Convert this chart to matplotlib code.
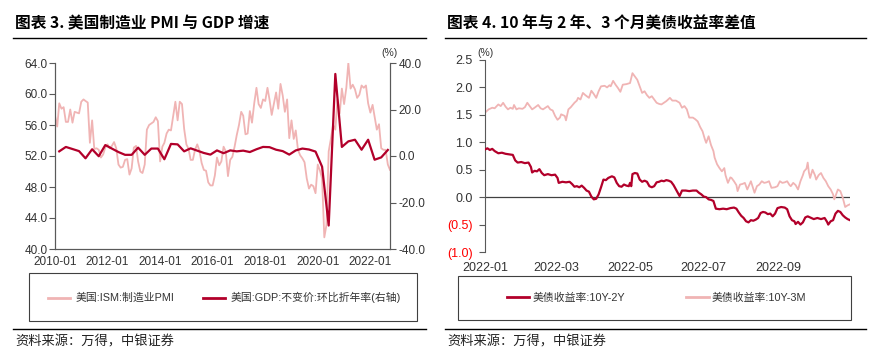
import matplotlib
matplotlib.use('Agg')
import numpy as np
import pandas as pd
import matplotlib.pyplot as plt
from matplotlib.patches import Rectangle
from matplotlib.lines import Line2D

plt.rcParams['font.family'] = ['Noto Sans CJK SC', 'DejaVu Sans']
NUM_FONT = ['Liberation Sans', 'DejaVu Sans']
LEG_FONT = ['Liberation Sans', 'Noto Sans CJK SC', 'DejaVu Sans']

''' data: left chart (monthly PMI, quarterly GDP qoq saar)
'''
pmi = [57.2, 55.8, 58.8, 58.1, 58.3, 56.4, 56.4, 58.0, 56.3, 57.7, 57.6, 57.5,
       59.0, 59.3, 59.1, 58.9, 53.7, 56.6, 52.9, 53.0, 52.8, 51.8, 52.2, 53.1,
       53.5, 53.0, 53.3, 53.8, 53.0, 50.9, 50.5, 50.6, 51.5, 51.6, 49.6, 50.4,
       53.1, 53.3, 51.3, 50.0, 49.8, 50.9, 55.4, 56.0, 56.2, 56.4, 57.0, 56.5,
       51.3, 53.2, 53.7, 54.9, 55.4, 55.3, 57.1, 59.0, 56.6, 59.0, 58.7, 55.5,
       53.5, 52.9, 51.5, 51.5, 52.8, 53.5, 52.7, 51.1, 50.2, 50.1, 48.6, 48.2,
       48.2, 49.5, 51.8, 50.8, 51.3, 53.2, 52.6, 49.4, 51.5, 51.9, 53.2, 54.7,
       56.0, 57.7, 57.2, 54.8, 54.9, 57.8, 56.3, 58.8, 60.8, 58.7, 58.2, 59.3,
       59.1, 60.8, 59.3, 57.3, 58.7, 60.2, 58.1, 61.3, 59.8, 57.7, 59.3, 54.3,
       56.6, 54.2, 55.3, 52.8, 52.1, 51.7, 51.2, 49.1, 47.8, 48.3, 48.1, 47.2,
       50.9, 50.1, 49.1, 41.5, 43.1, 52.6, 54.2, 56.0, 55.4, 59.3, 57.5, 60.7,
       58.7, 60.8, 64.0, 60.7, 61.2, 60.6, 59.5, 59.9, 61.1, 60.8, 61.1, 58.8,
       57.6, 58.6, 57.1, 55.4, 56.1, 53.0, 52.8, 52.8, 50.9, 50.2]
pmi_dates = pd.date_range('2010-01-01', periods=len(pmi), freq='MS')

gdp = [2.0, 3.9, 3.0, 2.1,
       -1.0, 2.9, -0.1, 4.7,
       3.2, 1.7, 0.5, 0.5,
       3.6, 0.5, 3.2, 3.2,
       -1.4, 5.2, 5.0, 2.0,
       3.3, 2.3, 1.3, 0.6,
       2.4, 1.2, 2.4, 2.0,
       2.3, 1.7, 2.9, 3.9,
       3.8, 2.7, 2.1, 0.6,
       2.4, 3.2, 2.8, 1.9,
       -4.6, -29.9, 35.3, 3.9,
       6.3, 7.0, 2.7, 7.0,
       -1.6, -0.6, 2.6]
gdp_dates = pd.date_range('2010-03-01', periods=len(gdp), freq='3MS')
left_ticks = ['2010-01', '2012-01', '2014-01', '2016-01', '2018-01', '2020-01', '2022-01']

''' data: right chart (daily spreads, day offset from 2022-01-01)
'''
days_2y = [0, 2, 4, 6, 8, 11, 14, 17, 20, 23, 25, 27, 30, 33, 36, 38, 39, 41, 43, 45,
           47, 49, 52, 55, 58, 60, 61, 64, 67, 70, 72, 74, 76, 78, 80, 82, 84, 86, 88, 90,
           92, 94, 96, 98, 100, 102, 105, 107, 109, 111, 113, 115, 117, 119, 120, 121, 122, 124, 126, 128,
           130, 132, 134, 136, 138, 140, 142, 144, 146, 148, 150, 152, 154, 156, 158, 161, 163, 166, 169, 172,
           175, 177, 179, 181, 183, 185, 187, 189, 191, 194, 197, 200, 203, 206, 208, 210, 212, 214, 216, 218,
           220, 222, 224, 226, 228, 230, 232, 234, 236, 238, 240, 242, 245, 248, 250, 252, 254, 256, 257, 259,
           261, 263, 265, 267, 269, 272, 275, 278, 281, 283, 284, 286, 288, 290, 292, 294, 296, 298, 300, 302]
spread_2y = [0.87, 0.89, 0.86, 0.88, 0.84, 0.80, 0.81, 0.79, 0.78, 0.77, 0.67, 0.63, 0.64, 0.62, 0.63, 0.55, 0.45, 0.48, 0.47, 0.51,
             0.44, 0.40, 0.42, 0.40, 0.41, 0.35, 0.26, 0.28, 0.27, 0.28, 0.24, 0.19, 0.20, 0.18, 0.21, 0.17, 0.12, 0.10, 0.01, -0.04,
             -0.03, 0.05, 0.18, 0.32, 0.31, 0.35, 0.38, 0.36, 0.26, 0.20, 0.19, 0.23, 0.21, 0.20, 0.26, 0.20, 0.42, 0.44, 0.43, 0.32,
             0.28, 0.30, 0.28, 0.20, 0.18, 0.20, 0.27, 0.28, 0.30, 0.29, 0.31, 0.30, 0.28, 0.22, 0.14, 0.02, 0.12, 0.12, 0.11, 0.12,
             0.12, 0.08, 0.05, 0.01, 0.00, -0.04, -0.05, -0.07, -0.21, -0.22, -0.21, -0.22, -0.20, -0.19, -0.21, -0.28, -0.34, -0.38, -0.44, -0.46,
             -0.42, -0.43, -0.41, -0.38, -0.29, -0.27, -0.28, -0.31, -0.30, -0.35, -0.30, -0.20, -0.18, -0.19, -0.22, -0.35, -0.42, -0.44, -0.49, -0.45,
             -0.50, -0.46, -0.37, -0.35, -0.37, -0.40, -0.38, -0.40, -0.38, -0.45, -0.50, -0.44, -0.42, -0.30, -0.25, -0.27, -0.33, -0.37, -0.40, -0.42]

days_3m = [0, 3, 6, 8, 11, 13, 15, 17, 19, 21, 23, 24, 26, 28, 31, 33, 35, 37, 39, 41,
           44, 46, 48, 50, 52, 54, 56, 58, 60, 62, 63, 66, 67, 69, 71, 74, 76, 77, 79, 81,
           83, 86, 88, 90, 92, 94, 96, 99, 101, 103, 104, 106, 108, 110, 112, 114, 117, 120, 122, 124,
           126, 128, 130, 132, 134, 136, 138, 140, 142, 144, 146, 148, 150, 153, 155, 158, 161, 163, 165, 167,
           169, 172, 174, 176, 178, 180, 182, 183, 185, 187, 189, 190, 192, 194, 196, 198, 199, 201, 203, 204,
           206, 208, 209, 211, 213, 215, 217, 219, 220, 222, 223, 225, 227, 229, 231, 233, 235, 237, 240, 242,
           244, 246, 248, 250, 252, 253, 255, 257, 259, 261, 263, 264, 266, 267, 268, 269, 271, 273, 274, 276,
           278, 280, 282, 284, 286, 288, 289, 291, 292, 294, 296, 298, 300, 302]
spread_3m = [1.54, 1.60, 1.63, 1.62, 1.69, 1.66, 1.72, 1.65, 1.60, 1.63, 1.61, 1.68, 1.60, 1.62, 1.61, 1.64, 1.72, 1.66, 1.60, 1.63,
             1.68, 1.62, 1.60, 1.63, 1.66, 1.60, 1.58, 1.48, 1.41, 1.45, 1.51, 1.48, 1.40, 1.60, 1.64, 1.72, 1.76, 1.81, 1.78, 1.90,
             1.86, 1.81, 1.94, 1.88, 1.81, 1.93, 2.02, 2.03, 2.00, 2.04, 2.02, 2.12, 2.05, 1.99, 1.92, 2.05, 2.06, 2.08, 2.26, 2.20,
             2.14, 2.02, 1.90, 1.93, 1.86, 1.81, 1.84, 1.78, 1.72, 1.70, 1.69, 1.72, 1.75, 1.81, 1.76, 1.76, 1.72, 1.63, 1.66, 1.60,
             1.45, 1.45, 1.42, 1.38, 1.28, 1.20, 1.05, 0.99, 1.11, 0.95, 0.84, 0.72, 0.60, 0.53, 0.47, 0.53, 0.40, 0.26, 0.36, 0.35,
             0.29, 0.22, 0.11, 0.23, 0.24, 0.26, 0.14, 0.24, 0.29, 0.15, 0.08, 0.20, 0.23, 0.29, 0.26, 0.27, 0.29, 0.17, 0.18, 0.20,
             0.29, 0.26, 0.27, 0.29, 0.22, 0.20, 0.26, 0.22, 0.14, 0.29, 0.40, 0.47, 0.52, 0.63, 0.45, 0.35, 0.50, 0.40, 0.32, 0.40,
             0.44, 0.35, 0.29, 0.20, 0.14, 0.05, -0.04, 0.08, 0.14, 0.11, -0.01, -0.18, -0.15, -0.13]
right_ticks = ['2022-01', '2022-03', '2022-05', '2022-07', '2022-09']

base = pd.Timestamp('2022-01-01')
dates_2y = base + pd.to_timedelta(days_2y, unit='D')
dates_3m = base + pd.to_timedelta(days_3m, unit='D')

''' colours
'''
PINK = '#F0B4B4'
DARK = '#B2002A'
AXC = '#595959'
TXT = '#333333'

W, H = 875, 351
def fx(px): return px / W
def fy(py): return 1 - py / H

fig = plt.figure(figsize=(8.75, 3.51), dpi=100)

''' left chart
'''
ax1 = fig.add_axes([fx(55), fy(249), fx(390) - fx(55), fy(63) - fy(249)])
ax1.plot(pmi_dates, pmi, color=PINK, lw=1.3, zorder=2)
ax1.set_ylim(40, 64)
ax1.set_yticks(np.arange(40, 64.1, 4))
ax1.yaxis.set_major_formatter(matplotlib.ticker.FormatStrFormatter('%.1f'))
ax1.set_xlim(pmi_dates[0], pmi_dates[-1])
ax1.set_xticks(pd.to_datetime(left_ticks))
ax1.set_xticklabels(left_ticks)
ax1.tick_params(axis='x', length=0, pad=5, labelsize=8.5, labelcolor=TXT)
ax1.tick_params(axis='y', direction='out', length=4, width=0.8, color=AXC, pad=1.5,
                labelsize=8.5, labelcolor=TXT)
ax1.spines['top'].set_visible(False)
for s in ['left', 'right', 'bottom']:
  ax1.spines[s].set_color(AXC)
  ax1.spines[s].set_linewidth(0.8)

ax2 = ax1.twinx()
ax2.plot(gdp_dates, gdp, color=DARK, lw=1.6, zorder=3)
ax2.set_ylim(-40, 40)
ax2.set_yticks(np.arange(-40, 40.1, 20))
ax2.yaxis.set_major_formatter(matplotlib.ticker.FormatStrFormatter('%.1f'))
ax2.tick_params(axis='y', direction='out', length=4, width=0.8, color=AXC, pad=2,
                labelsize=8.5, labelcolor=TXT)
ax2.spines['top'].set_visible(False)
for s in ['left', 'right', 'bottom']:
  ax2.spines[s].set_color(AXC)
  ax2.spines[s].set_linewidth(0.8)

for a in (ax1, ax2):
  for lab in a.get_xticklabels() + a.get_yticklabels():
    lab.set_fontfamily(NUM_FONT)

''' right chart
'''
ax3 = fig.add_axes([fx(485), fy(252), fx(850) - fx(485), fy(60) - fy(252)])
ax3.plot(dates_3m, spread_3m, color=PINK, lw=1.3, zorder=2)
ax3.plot(dates_2y, spread_2y, color=DARK, lw=1.6, zorder=3)
ax3.axhline(0, color='#404040', lw=0.9, zorder=1)
ax3.set_ylim(-1.0, 2.5)
yt = np.arange(-1.0, 2.51, 0.5)
ax3.set_yticks(yt)
ax3.set_yticklabels(['({:.1f})'.format(-v) if v < 0 else '{:.1f}'.format(abs(v)) for v in yt])
for lab, v in zip(ax3.get_yticklabels(), yt):
  lab.set_color('#FF0000' if v < 0 else TXT)
ax3.set_xlim(base, dates_2y[-1])
ax3.set_xticks(pd.to_datetime(right_ticks))
ax3.set_xticklabels(right_ticks)
ax3.tick_params(axis='x', length=0, pad=7, labelsize=9, labelcolor=TXT)
ax3.tick_params(axis='y', direction='out', length=4, width=0.8, color=AXC, pad=5, labelsize=9)
for s in ['top', 'right', 'bottom']:
  ax3.spines[s].set_visible(False)
ax3.spines['left'].set_color(AXC)
ax3.spines['left'].set_linewidth(0.8)
for lab in ax3.get_xticklabels() + ax3.get_yticklabels():
  lab.set_fontfamily(NUM_FONT)

''' units
'''
fig.text(fx(390), fy(53), '(%)', ha='center', va='center', fontsize=7.5,
         color=TXT, family=NUM_FONT)
fig.text(fx(486), fy(53), '(%)', ha='center', va='center', fontsize=7.5,
         color=TXT, family=NUM_FONT)

''' titles, separators, sources
'''
fig.text(fx(15), fy(23), '图表 3. 美国制造业 PMI 与 GDP 增速', ha='left', va='center',
         fontsize=11.3, fontweight='bold', color='black')
fig.text(fx(447), fy(23), '图表 4. 10 年与 2 年、3 个月美债收益率差值', ha='left', va='center',
         fontsize=11.3, fontweight='bold', color='black')
for x0, x1 in [(13, 426), (445, 866)]:
  for yy in (38, 329):
    fig.add_artist(Line2D([fx(x0), fx(x1)], [fy(yy), fy(yy)], transform=fig.transFigure,
                          color='black', lw=1.0))
fig.text(fx(15), fy(342), '资料来源：万得，中银证券', ha='left', va='center',
         fontsize=9.5, color='#222222')
fig.text(fx(447), fy(342), '资料来源：万得，中银证券', ha='left', va='center',
         fontsize=9.5, color='#222222')

''' legend boxes
'''
fig.add_artist(Rectangle((fx(29), fy(321)), fx(417) - fx(29), fy(273) - fy(321),
                         transform=fig.transFigure, fill=False, ec='#404040', lw=0.8))
fig.add_artist(Rectangle((fx(458), fy(320)), fx(851) - fx(458), fy(276) - fy(320),
                         transform=fig.transFigure, fill=False, ec='#404040', lw=0.8))

h1 = [Line2D([], [], color=PINK, lw=2.0), Line2D([], [], color=DARK, lw=2.0)]
leg1 = fig.legend(h1, ['美国:ISM:制造业PMI', '美国:GDP:不变价:环比折年率(右轴)'],
                  loc='center', bbox_to_anchor=(fx(224.5), fy(297.7)), ncol=2,
                  frameon=False, handlelength=2.0, handletextpad=0.5, columnspacing=2.7,
                  prop={'family': LEG_FONT, 'size': 7.8})
for t in leg1.get_texts():
  t.set_color(TXT)

h2 = [Line2D([], [], color=DARK, lw=2.0), Line2D([], [], color=PINK, lw=2.0)]
leg2 = fig.legend(h2, ['美债收益率:10Y-2Y', '美债收益率:10Y-3M'],
                  loc='center', bbox_to_anchor=(fx(656.5), fy(298)), ncol=2,
                  frameon=False, handlelength=2.1, handletextpad=0.3, columnspacing=5.6,
                  prop={'family': LEG_FONT, 'size': 7.8})
for t in leg2.get_texts():
  t.set_color(TXT)

fig.savefig('out.png', dpi=100)
plt.close(fig)
